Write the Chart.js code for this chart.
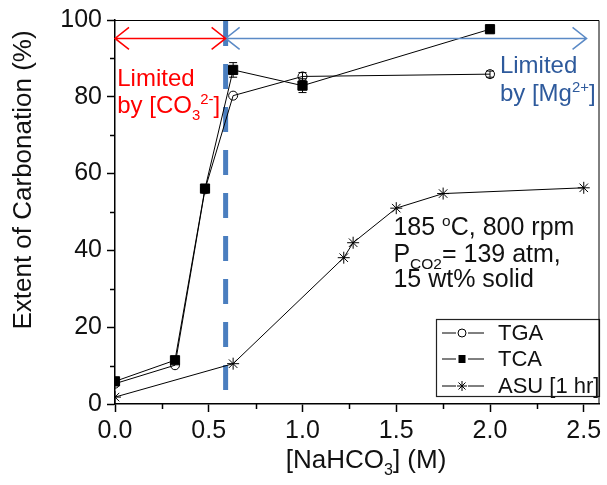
<!DOCTYPE html>
<html>
<head>
<meta charset="utf-8">
<script src="https://cdn.jsdelivr.net/npm/chart.js@4"></script>
<style>
  html, body { margin: 0; padding: 0; background: #fff; }
  #wrap { width: 607px; height: 485px; }
</style>
</head>
<body>
<div id="wrap"><canvas id="c" width="607" height="485"></canvas></div>
<script>
// ---- Data ----
const xTGA = [0, 0.32, 0.48, 0.63, 1.0, 2.0];
const yTGA = [5.3, 10.1, 55.9, 80.3, 85.3, 85.9];
const errTGA = [0, 0, 0, 0, 1.0, 0.8];

const xTCA = [0, 0.32, 0.48, 0.63, 1.0, 2.0];
const yTCA = [5.9, 11.4, 56.1, 87.0, 82.9, 97.6];
const errTCA = [0, 0.5, 0, 1.9, 1.8, 1.0];

const xASU = [0, 0.63, 1.22, 1.27, 1.5, 1.75, 2.5];
const yASU = [1.8, 10.5, 38.1, 42.0, 51.0, 54.8, 56.3];

const xTicks = [0, 0.5, 1.0, 1.5, 2.0, 2.5];
const xMinorTicks = [0.25, 0.75, 1.25, 1.75, 2.25];
const yTicks = [0, 20, 40, 60, 80, 100];
const yMinorTicks = [10, 30, 50, 70, 90];

const boundaryX = 0.59;   // dashed line position (M)
const arrowY = 95.2;
const blueArrowEnd = 2.515;

const FONT = '"Liberation Sans", Arial, Helvetica, sans-serif';

function pts(xs, ys) { return xs.map((x, i) => ({ x: x, y: ys[i] })); }

const errorBarPlugin = {
  id: 'extras',
  beforeDatasetsDraw(chart) {
    const { ctx, chartArea: a, scales: { x, y } } = chart;
    // dashed boundary line
    ctx.save();
    ctx.strokeStyle = '#4a7ebf';
    ctx.lineWidth = 5;
    ctx.setLineDash([25, 18]);
    ctx.beginPath();
    const px = x.getPixelForValue(boundaryX);
    ctx.moveTo(px, y.getPixelForValue(100) + 1);
    ctx.lineTo(px, y.getPixelForValue(0));
    ctx.stroke();
    ctx.restore();
  },
  afterDatasetsDraw(chart) {
    const { ctx, chartArea: a, scales: { x, y } } = chart;
    ctx.save();
    // error bars
    ctx.strokeStyle = '#000';
    ctx.lineWidth = 1;
    function eb(xs, ys, es) {
      xs.forEach((xv, i) => {
        const e = es[i];
        if (!e) return;
        const px = x.getPixelForValue(xv);
        const p1 = y.getPixelForValue(ys[i] + e);
        const p2 = y.getPixelForValue(ys[i] - e);
        ctx.beginPath();
        ctx.moveTo(px, p1); ctx.lineTo(px, p2);
        ctx.moveTo(px - 4, p1); ctx.lineTo(px + 4, p1);
        ctx.moveTo(px - 4, p2); ctx.lineTo(px + 4, p2);
        ctx.stroke();
      });
    }
    eb(xTCA, yTCA, errTCA);
    eb(xTGA, yTGA, errTGA);

    // arrows
    function arrow(x0, x1, color) {
      const p0 = x.getPixelForValue(x0), p1 = x.getPixelForValue(x1);
      const py = y.getPixelForValue(arrowY);
      ctx.strokeStyle = color;
      ctx.lineWidth = 1.5;
      ctx.beginPath();
      ctx.moveTo(p0, py); ctx.lineTo(p1, py);
      ctx.moveTo(p0 + 14, py - 11); ctx.lineTo(p0, py); ctx.lineTo(p0 + 14, py + 11);
      ctx.moveTo(p1 - 14, py - 11); ctx.lineTo(p1, py); ctx.lineTo(p1 - 14, py + 11);
      ctx.stroke();
    }
    arrow(boundaryX, blueArrowEnd, '#5b8ac6');
    arrow(0, boundaryX, '#ff0000');

    // rich text helper: parts [text, mode] mode: n, sub, sup
    function rich(parts, px, py, size, color) {
      ctx.fillStyle = color;
      ctx.textBaseline = 'alphabetic';
      ctx.textAlign = 'left';
      let cx = px;
      parts.forEach(([t, m]) => {
        let s = size, dy = 0;
        if (m === 'sub') { s = size * 0.62; dy = size * 0.28; }
        if (m === 'sup') { s = size * 0.62; dy = -size * 0.38; }
        ctx.font = s + 'px ' + FONT;
        ctx.fillText(t, cx, py + dy);
        cx += ctx.measureText(t).width;
      });
    }
    const X = v => x.getPixelForValue(v);
    const Y = v => y.getPixelForValue(v);

    // region labels
    rich([['Limited', 'n']], X(0.012), Y(82.9), 24, '#ff0000');
    rich([['by [CO', 'n'], ['3', 'sub'], ['2-', 'sup'], [']', 'n']], X(0.012), Y(75.8), 24, '#ff0000');
    rich([['Limited', 'n']], X(2.053), Y(86.2), 24, '#2e5a9c');
    rich([['by [Mg', 'n'], ['2+', 'sup'], [']', 'n']], X(2.053), Y(79.0), 24, '#2e5a9c');

    // conditions
    rich([['185 ', 'n'], ['o', 'sup'], ['C, 800 rpm', 'n']], X(1.485), Y(43.9), 25, '#111');
    rich([['P', 'n'], ['CO2', 'sub'], ['= 139 atm,', 'n']], X(1.485), Y(36.9), 25, '#111');
    rich([['15 wt% solid', 'n']], X(1.485), Y(30.4), 25, '#111');

    // legend box
    const lx0 = 436, lx1 = 599, ly0 = 319, ly1 = 396;
    ctx.strokeStyle = '#222';
    ctx.lineWidth = 1.2;
    ctx.strokeRect(lx0 + 0.5, ly0 + 0.5, lx1 - lx0, ly1 - ly0);
    const rows = [
      { label: 'TGA', style: 'circle', cy: 333 },
      { label: 'TCA', style: 'rect', cy: 359 },
      { label: 'ASU [1 hr]', style: 'star', cy: 386 }
    ];
    rows.forEach(r => {
      ctx.strokeStyle = '#000';
      ctx.lineWidth = 1;
      ctx.beginPath();
      ctx.moveTo(442, r.cy); ctx.lineTo(456, r.cy);
      ctx.moveTo(468, r.cy); ctx.lineTo(484, r.cy);
      ctx.stroke();
      const mx = 462;
      ctx.fillStyle = '#000';
      if (r.style === 'circle') {
        ctx.beginPath(); ctx.arc(mx, r.cy, 4, 0, Math.PI * 2); ctx.stroke();
      } else if (r.style === 'rect') {
        ctx.fillRect(mx - 3.5, r.cy - 4, 7, 8);
      } else {
        ctx.beginPath();
        for (let k = 0; k < 4; k++) {
          const ang = k * Math.PI / 4;
          ctx.moveTo(mx - 5 * Math.cos(ang), r.cy - 5 * Math.sin(ang));
          ctx.lineTo(mx + 5 * Math.cos(ang), r.cy + 5 * Math.sin(ang));
        }
        ctx.stroke();
      }
      ctx.font = '22px ' + FONT;
      ctx.fillStyle = '#111';
      ctx.textBaseline = 'middle';
      ctx.fillText(r.label, 498, r.cy + 1);
    });

    // frame (top and right)
    ctx.strokeStyle = '#000';
    ctx.lineWidth = 1;
    ctx.beginPath();
    ctx.moveTo(a.left, a.top + 0.5); ctx.lineTo(a.right - 0.5, a.top + 0.5); ctx.lineTo(a.right - 0.5, a.bottom);
    ctx.stroke();

    // minor ticks
    ctx.lineWidth = 1.5;
    ctx.beginPath();
    xMinorTicks.forEach(v => {
      const px = Math.round(X(v)) + 0.5;
      ctx.moveTo(px, a.bottom); ctx.lineTo(px, a.bottom + 5);
    });
    yMinorTicks.forEach(v => {
      const py = Math.round(Y(v)) + 0.5;
      ctx.moveTo(a.left, py); ctx.lineTo(a.left - 5, py);
    });
    ctx.stroke();

    // axis titles
    ctx.fillStyle = '#111';
    // x title
    ctx.font = '26px ' + FONT;
    const partsX = [['[NaHCO', 'n'], ['3', 'sub'], ['] (M)', 'n']];
    let w = 0;
    partsX.forEach(([t, m]) => {
      ctx.font = (m === 'n' ? 26 : 26 * 0.62) + 'px ' + FONT;
      w += ctx.measureText(t).width;
    });
    rich(partsX, 366 - w / 2, 468, 26, '#111');
    // y title
    ctx.save();
    ctx.translate(31, 180);
    ctx.rotate(-Math.PI / 2);
    ctx.font = '26px ' + FONT;
    ctx.textAlign = 'center';
    ctx.textBaseline = 'alphabetic';
    ctx.fillText('Extent of Carbonation (%)', 0, 0);
    ctx.restore();

    ctx.restore();
  }
};

const chart = new Chart(document.getElementById('c'), {
  type: 'line',
  data: {
    datasets: [
      {
        label: 'TGA', data: pts(xTGA, yTGA), clip: 0,
        borderColor: '#000', borderWidth: 1, backgroundColor: 'rgba(0,0,0,0)',
        pointStyle: 'circle', pointRadius: 4.5, pointBorderWidth: 1,
        pointBorderColor: '#000', pointBackgroundColor: 'rgba(255,255,255,0)'
      },
      {
        label: 'TCA', data: pts(xTCA, yTCA), clip: 0,
        borderColor: '#000', borderWidth: 1, backgroundColor: '#000',
        pointStyle: 'rect', pointRadius: 6.5, pointBorderWidth: 1,
        pointBorderColor: '#000', pointBackgroundColor: '#000'
      },
      {
        label: 'ASU [1 hr]', data: pts(xASU, yASU), clip: 0,
        borderColor: '#000', borderWidth: 1, backgroundColor: 'rgba(0,0,0,0)',
        pointStyle: 'star', pointRadius: 6, pointBorderWidth: 1,
        pointBorderColor: '#000'
      }
    ]
  },
  options: {
    responsive: false,
    animation: false,
    devicePixelRatio: 1,
    layout: { padding: { left: 0, right: 5, top: 19, bottom: 0 } },
    plugins: { legend: { display: false }, tooltip: { enabled: false } },
    elements: { line: { tension: 0 } },
    scales: {
      x: {
        type: 'linear', min: 0, max: 2.584,
        afterBuildTicks: s => { s.ticks = xTicks.map(v => ({ value: v })); },
        afterFit: s => { s.height = 81; },
        ticks: {
          font: { family: FONT, size: 25 }, color: '#111', padding: 4,
          maxRotation: 0, autoSkip: false,
          callback: v => Number(v).toFixed(1)
        },
        grid: { drawOnChartArea: false, drawTicks: true, tickLength: 8, tickColor: '#000', tickWidth: 1.5 },
        border: { display: true, color: '#000', width: 1.5 }
      },
      y: {
        type: 'linear', min: 0, max: 100,
        afterBuildTicks: s => { s.ticks = yTicks.map(v => ({ value: v })); },
        afterFit: s => { s.width = 115; },
        ticks: {
          font: { family: FONT, size: 25 }, color: '#111', padding: 5, autoSkip: false
        },
        grid: { drawOnChartArea: false, drawTicks: true, tickLength: 8, tickColor: '#000', tickWidth: 1.5 },
        border: { display: true, color: '#000', width: 1.5 }
      }
    }
  },
  plugins: [errorBarPlugin]
});
</script>
</body>
</html>
